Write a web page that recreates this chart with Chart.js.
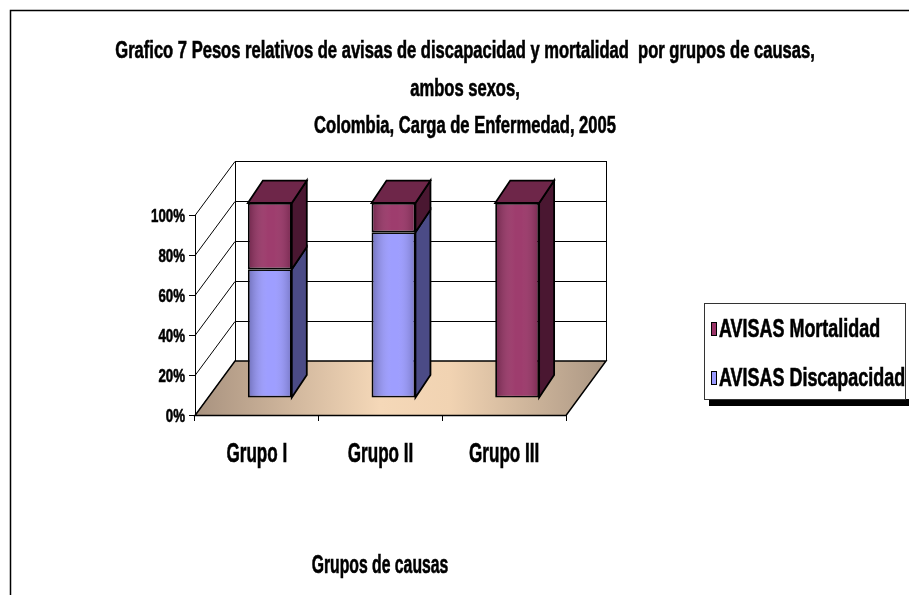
<!DOCTYPE html>
<html>
<head>
<meta charset="utf-8">
<script src="https://cdn.jsdelivr.net/npm/chart.js@4.4.0/dist/chart.umd.min.js"></script>
<style>
  html, body { margin: 0; padding: 0; background: #fff; }
  #wrap { width: 909px; height: 595px; }
</style>
</head>
<body>
<div id="wrap"><canvas id="chart" width="909" height="595"></canvas></div>
<script>
// Data
const categories = ['Grupo I', 'Grupo II', 'Grupo III'];
const mortalidad = [34, 15, 100];
const discapacidad = [66, 85, 0];
const seriesNames = ['AVISAS Discapacidad', 'AVISAS Mortalidad'];
const yTickValues = [0, 20, 40, 60, 80, 100];
const titleLines = [
  'Grafico 7 Pesos relativos de avisas de discapacidad y mortalidad  por grupos de causas,',
  'ambos sexos,',
  'Colombia, Carga de Enfermedad, 2005'
];
const xTitle = 'Grupos de causas';

// no condensed face installed, so text is squeezed horizontally
const FONT = '"Liberation Sans", Arial, sans-serif';
function squeezeText(c, text, x, y, size, sx, align) {
  c.save();
  c.font = 'bold ' + size + 'px ' + FONT;
  c.textAlign = align || 'center';
  c.textBaseline = 'alphabetic';
  c.fillStyle = '#000';
  c.strokeStyle = '#000';
  c.lineWidth = 0.6;
  c.translate(x, y);
  c.scale(sx, 1);
  c.fillText(text, 0, 0);
  c.strokeText(text, 0, 0);
  c.restore();
}

// 3D look
const WALL_DX = 40, WALL_DY = -54;      // depth of the back wall
const BAR_DX = 13, BAR_DY = -17;        // bars sit mid-depth
const BAR_SY = 0.975;
const SIDE_DX = 15, SIDE_DY = -23;      // depth of each bar
const faces = {
  '#9999FF': { side: '#4b4b86', top: '#6f6fc0' },
  '#993366': { side: '#4a1731', top: '#6e2649' }
};

const plot3d = {
  id: 'plot3d',
  beforeDraw(chart) {
    const c = chart.ctx;
    c.save();
    c.fillStyle = '#fff';
    c.fillRect(0, 0, chart.width, chart.height);
    c.strokeStyle = '#000';
    c.lineWidth = 1.5;
    c.beginPath();
    c.moveTo(10.5, chart.height + 5);
    c.lineTo(10.5, 10.5);
    c.lineTo(chart.width + 5, 10.5);
    c.stroke();
    c.restore();
  },
  beforeDatasetsDraw(chart) {
    const c = chart.ctx;
    const ys = chart.scales.y;
    const L = chart.chartArea.left, R = chart.chartArea.right;
    const y0 = ys.getPixelForValue(0);
    const y100 = ys.getPixelForValue(100);

    c.save();
    c.strokeStyle = '#000';
    c.lineWidth = 1;
    // back wall and left wall lines
    ys.ticks.forEach(t => {
      const py = Math.round(ys.getPixelForValue(t.value)) + 0.5;
      c.beginPath();
      c.moveTo(L, py);
      c.lineTo(L + WALL_DX, py + WALL_DY);
      c.lineTo(R + WALL_DX, py + WALL_DY);
      c.stroke();
    });
    c.beginPath();
    c.moveTo(L + WALL_DX + 0.5, y0 + WALL_DY);
    c.lineTo(L + WALL_DX + 0.5, y100 + WALL_DY);
    c.moveTo(R + WALL_DX + 0.5, y0 + WALL_DY);
    c.lineTo(R + WALL_DX + 0.5, y100 + WALL_DY);
    c.stroke();

    // floor
    const g = c.createLinearGradient(L, 0, R + WALL_DX, 0);
    g.addColorStop(0, '#a8927f');
    g.addColorStop(0.45, '#f5d8b8');
    g.addColorStop(0.62, '#f1d3b2');
    g.addColorStop(1, '#ab9784');
    c.fillStyle = g;
    c.beginPath();
    c.moveTo(L, y0 + 0.5);
    c.lineTo(R, y0 + 0.5);
    c.lineTo(R + WALL_DX, y0 + WALL_DY);
    c.lineTo(L + WALL_DX, y0 + WALL_DY);
    c.closePath();
    c.fill();
    c.lineWidth = 1.5;
    c.stroke();
    c.restore();

    // bars are drawn a bit deeper than the front plane
    c.save();
    c.translate(BAR_DX, y0 + BAR_DY);
    c.scale(1, BAR_SY);
    c.translate(0, -y0);
  },
  afterDatasetsDraw(chart) {
    const c = chart.ctx;
    const topSeg = {};
    chart.data.datasets.forEach((ds, di) => {
      chart.getDatasetMeta(di).data.forEach((el, i) => {
        const p = el.getProps(['x', 'y', 'base', 'width'], true);
        if (Math.abs(p.base - p.y) < 1) return;
        const l = p.x - p.width / 2, r = p.x + p.width / 2;
        const top = Math.min(p.y, p.base), bot = Math.max(p.y, p.base);
        // front shading
        const fg = c.createLinearGradient(l, 0, r, 0);
        fg.addColorStop(0, 'rgba(0,0,0,0.28)');
        fg.addColorStop(0.45, 'rgba(255,255,255,0.05)');
        fg.addColorStop(0.6, 'rgba(255,255,255,0.05)');
        fg.addColorStop(1, 'rgba(0,0,0,0.22)');
        c.fillStyle = fg;
        c.fillRect(l + 1, top + 1, p.width - 2, bot - top - 2);
        // side face
        const f = faces[ds.backgroundColor];
        c.fillStyle = f.side;
        c.strokeStyle = '#000';
        c.lineWidth = 1.8;
        c.beginPath();
        c.moveTo(r, bot);
        c.lineTo(r, top);
        c.lineTo(r + SIDE_DX, top + SIDE_DY);
        c.lineTo(r + SIDE_DX, bot + SIDE_DY);
        c.closePath();
        c.fill();
        c.stroke();
        if (!topSeg[i] || top < topSeg[i].top) topSeg[i] = { l, r, top, f };
      });
    });
    Object.values(topSeg).forEach(s => {
      c.fillStyle = s.f.top;
      c.beginPath();
      c.moveTo(s.l, s.top);
      c.lineTo(s.l + SIDE_DX, s.top + SIDE_DY);
      c.lineTo(s.r + SIDE_DX, s.top + SIDE_DY);
      c.lineTo(s.r, s.top);
      c.closePath();
      c.fill();
      c.stroke();
    });
    c.restore();
  },
  afterDraw(chart) {
    const c = chart.ctx;
    const xs = chart.scales.x, ys = chart.scales.y;

    // title
    titleLines.forEach((t, k) => squeezeText(c, t, 465, 58 + k * 37.5, 23, 0.72));

    // tick labels and axis title
    xs.ticks.forEach((t, i) => squeezeText(c, categories[i], xs.getPixelForTick(i), 462, 28, 0.61));
    ys.ticks.forEach(t => squeezeText(c, t.value + '%', ys.left + 185, ys.getPixelForValue(t.value) + 7, 19, 0.7, 'right'));
    squeezeText(c, xTitle, 380, 573, 25, 0.63);

    // legend
    const bx = 704, by = 303, bw = 201, bh = 96;
    c.save();
    c.fillStyle = '#000';
    c.fillRect(bx + 5, by + bh, bw + 10, 7);
    c.fillStyle = '#fff';
    c.fillRect(bx, by, bw, bh);
    c.strokeStyle = '#333';
    c.lineWidth = 1;
    c.strokeRect(bx + 0.5, by + 0.5, bw, bh);
    const items = chart.data.datasets.slice().reverse();
    items.forEach((ds, k) => {
      const ty = by + 34 + k * 49;
      c.fillStyle = ds.backgroundColor;
      c.fillRect(bx + 7, ty - 15, 6, 14);
      c.strokeStyle = '#000';
      c.strokeRect(bx + 7.5, ty - 14.5, 5, 13);
      squeezeText(c, ds.label, bx + 15, ty, 26, 0.69, 'left');
    });
    c.restore();
  }
};

new Chart(document.getElementById('chart'), {
  type: 'bar',
  data: {
    labels: categories,
    datasets: [
      { label: seriesNames[0], data: discapacidad, backgroundColor: '#9999FF' },
      { label: seriesNames[1], data: mortalidad, backgroundColor: '#993366' }
    ]
  },
  options: {
    responsive: false,
    animation: false,
    events: [],
    layout: { padding: { left: 0, right: 343, top: 215, bottom: 0 } },
    datasets: {
      bar: {
        borderColor: '#000',
        borderWidth: 1.8,
        borderSkipped: false,
        categoryPercentage: 1,
        barPercentage: 0.355,
        clip: false
      }
    },
    plugins: {
      legend: { display: false },
      tooltip: { enabled: false },
      title: { display: false }
    },
    scales: {
      x: {
        stacked: true,
        grid: { drawOnChartArea: false, drawTicks: true, tickLength: 6, color: '#000', offset: true },
        border: { display: true, color: '#000', width: 1 },
        ticks: { display: false },
        afterFit(scale) { scale.height = 180; }
      },
      y: {
        stacked: true,
        min: 0,
        max: 100,
        grid: { drawOnChartArea: false, drawTicks: true, tickLength: 6, color: '#000' },
        border: { display: true, color: '#000', width: 1 },
        afterBuildTicks(scale) { scale.ticks = yTickValues.map(v => ({ value: v })); },
        ticks: { display: false },
        afterFit(scale) { scale.width = 195; }
      }
    }
  },
  plugins: [plot3d]
});
</script>
</body>
</html>
